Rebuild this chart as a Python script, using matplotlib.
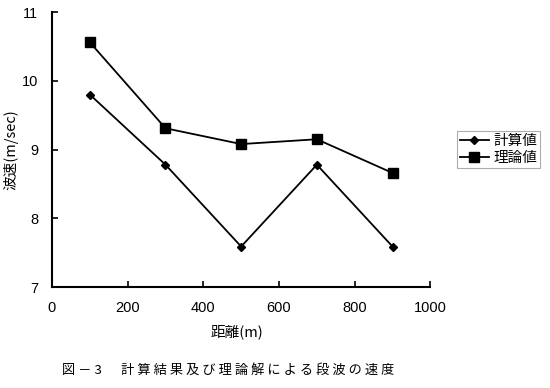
import matplotlib
matplotlib.use("Agg")
from matplotlib import pyplot as plt

plt.rcParams['font.family'] = ['Noto Sans CJK JP', 'DejaVu Sans']

distance = [100, 300, 500, 700, 900]
calc_vals = [9.8, 8.78, 7.59, 8.78, 7.59]
theory_vals = [10.56, 9.31, 9.08, 9.15, 8.66]
series_labels = ["計算値", "理論値"]
x_ticks = [0, 200, 400, 600, 800, 1000]
y_ticks = [7, 8, 9, 10, 11]

fig = plt.figure(figsize=(5.5, 3.88), dpi=100)
ax = fig.add_axes([0.0945, 0.26, 0.688, 0.709])

ax.plot(distance, calc_vals, color="black", lw=1.3, marker="D", ms=4.5,
        label=series_labels[0])
ax.plot(distance, theory_vals, color="black", lw=1.3, marker="s", ms=7,
        label=series_labels[1])

ax.set_xlim(0, 1000)
ax.set_ylim(7, 11)
ax.set_xticks(x_ticks)
ax.set_yticks(y_ticks)
ax.tick_params(direction="in", length=4, width=1.2, labelsize=10.5, pad=10)
for lab in ax.get_xticklabels() + ax.get_yticklabels():
    lab.set_family("Liberation Sans")
ax.spines["top"].set_visible(False)
ax.spines["right"].set_visible(False)
for s in ("left", "bottom"):
    ax.spines[s].set_linewidth(1.5)

ax.set_xlabel("距離(m)", fontsize=10.5)
ax.xaxis.set_label_coords(0.49, -0.135)
ax.set_ylabel("波速(m/sec)", fontsize=10.5)
ax.yaxis.set_label_coords(-0.09, 0.5)

leg = ax.legend(loc="center left", bbox_to_anchor=(1.05, 0.5), frameon=True,
                fancybox=False, edgecolor="#999999", fontsize=10.5,
                handlelength=2.0, borderpad=0.2, labelspacing=0.2,
                handletextpad=0.3)
leg.get_frame().set_linewidth(0.8)

fig.text(0.113, 0.028, "図 － 3 　 計 算 結 果 及 び 理 論 解 に よ る 段 波 の 速 度",
         fontsize=9.5, ha="left", va="bottom")

fig.savefig("out.png", dpi=100)
